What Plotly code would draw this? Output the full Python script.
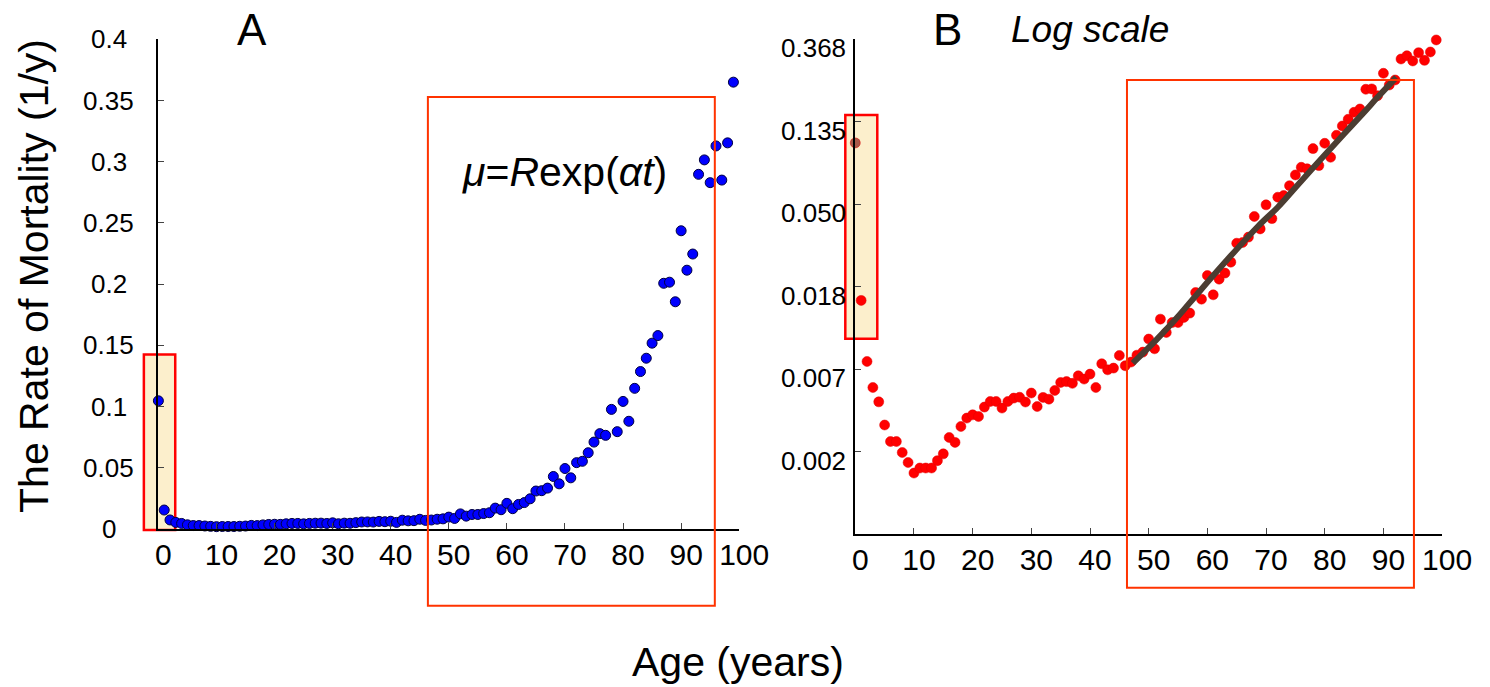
import math
import plotly.graph_objects as go

# ---------------- data ----------------
ages = list(range(0, 100))
mortality = [
    0.1047, 0.0155, 0.00739, 0.00539, 0.00453, 0.00342, 0.00280, 0.00280, 0.00245, 0.00217,
    0.00191, 0.00203, 0.00203, 0.00203, 0.00222, 0.00241, 0.00294, 0.00277, 0.00336, 0.00372,
    0.00387, 0.00379, 0.00425, 0.00455, 0.00455, 0.00420, 0.00455, 0.00474, 0.00479, 0.00452,
    0.00504, 0.00428, 0.00478, 0.00468, 0.00520, 0.00573, 0.00579, 0.00567, 0.00621, 0.00597,
    0.00634, 0.00539, 0.00719, 0.00668, 0.00682, 0.00795, 0.00702, 0.00734, 0.00798, 0.00828,
    0.00970, 0.00862, 0.01235, 0.01051, 0.01185, 0.01185, 0.01261, 0.01329, 0.01706, 0.01574,
    0.02096, 0.01659, 0.02006, 0.02159, 0.02466, 0.03102, 0.03130, 0.03340, 0.04290, 0.03690,
    0.04940, 0.04180, 0.05420, 0.05530, 0.06230, 0.07100, 0.07790, 0.07650, 0.09770, 0.07950,
    0.10420, 0.08800, 0.11490, 0.12860, 0.13950, 0.15180, 0.15800, 0.20070, 0.20160, 0.18560,
    0.24360, 0.21140, 0.22460, 0.28970, 0.30150, 0.28290, 0.31290, 0.28500, 0.31540, 0.36500,
]
fit_ages = [47.3, 51.3, 55.0, 58.4, 63.8, 68.6, 72.0, 75.4, 80.0, 83.4, 86.8, 89.0, 92.2]
fit_values = [0.00725, 0.00961, 0.01275, 0.01692, 0.02621, 0.0380, 0.0480, 0.0629,
              0.0905, 0.1178, 0.1530, 0.1821, 0.232]

x_ticks = list(range(0, 101, 10))
a_y_ticks = [0, 0.05, 0.1, 0.15, 0.2, 0.25, 0.3, 0.35, 0.4]
a_y_labels = ["0", "0.05", "0.1", "0.15", "0.2", "0.25", "0.3", "0.35", "0.4"]
b_y_ticks = [math.exp(-k) for k in range(1, 7)]
b_y_labels = ["0.368", "0.135", "0.050", "0.018", "0.007", "0.002"]

# highlighted regions (age range, mortality range)
box_a_infant = (-2.5, 2.9, -0.0008, 0.1426)
box_a_gompertz = (46.4, 95.8, -0.0626, 0.3529)
box_b_infant = (-1.7, 3.75, 0.00973, 0.147)
box_b_gompertz = (46.3, 95.2, math.exp(-7.651), math.exp(-1.493))

# ---------------- layout geometry (fractions of a 1490 x 687 canvas) ----------------
W, H = 1490, 687
FIG_W = 1520
FONT = "Arial, Liberation Sans, sans-serif"
xa_dom = [155.7 / W, 737.7 / W]
ya_dom = [1 - 529 / H, 1 - 39.3 / H]
xb_dom = [854 / W, 1442 / W]
yb_dom = [1 - 534 / H, 1 - 39.3 / H]
xa_rng = [0, 100]
ya_rng = [0, 0.4]
xb_rng = [0, 100]
yb_rng = [math.log10(math.exp(-7)), math.log10(math.exp(-1))]


def to_paper(v, dom, rng, log=False):
    if log:
        v = math.log10(v)
    return dom[0] + (v - rng[0]) / (rng[1] - rng[0]) * (dom[1] - dom[0])


def box(b, xd, xr, yd, yr, log, **kw):
    return dict(type="rect", xref="paper", yref="paper",
                x0=to_paper(b[0], xd, xr), x1=to_paper(b[1], xd, xr),
                y0=to_paper(b[2], yd, yr, log), y1=to_paper(b[3], yd, yr, log),
                **kw)


fig = go.Figure()

b_colors = ["#A85A4A"] + ["#FF0000"] * (len(ages) - 1)

fig.add_trace(go.Scatter(
    x=ages, y=mortality, mode="markers", xaxis="x", yaxis="y",
    marker=dict(size=10, color="#0000FF", line=dict(color="#000040", width=1)),
    cliponaxis=False, showlegend=False))

fig.add_trace(go.Scatter(
    x=ages, y=mortality, mode="markers", xaxis="x2", yaxis="y2",
    marker=dict(size=10, color=b_colors, line=dict(color="#E00000", width=0.5)),
    cliponaxis=False, showlegend=False))

fig.add_trace(go.Scatter(
    x=fit_ages, y=fit_values, mode="lines", xaxis="x2", yaxis="y2",
    line=dict(color="#4B3D32", width=6, shape="spline"),
    showlegend=False))

shapes = [
    box(box_a_infant, xa_dom, xa_rng, ya_dom, ya_rng, False,
        fillcolor="#FCEFCC", line=dict(color="#FF0000", width=2.5), layer="below"),
    box(box_a_gompertz, xa_dom, xa_rng, ya_dom, ya_rng, False,
        line=dict(color="#FF3300", width=2), layer="above"),
    box(box_b_infant, xb_dom, xb_rng, yb_dom, yb_rng, True,
        fillcolor="#FCEFCC", line=dict(color="#FF0000", width=2.5), layer="below"),
    box(box_b_gompertz, xb_dom, xb_rng, yb_dom, yb_rng, True,
        line=dict(color="#FF3300", width=2), layer="above"),
]

annotations = []
for v, t in zip(a_y_ticks, a_y_labels):
    annotations.append(dict(text=t, xref="paper", yref="y", x=106 / W, y=v,
                            xanchor="center", yanchor="middle", showarrow=False,
                            font=dict(family=FONT, size=26, color="black")))
for v, t in zip(b_y_ticks, b_y_labels):
    annotations.append(dict(text=t, xref="paper", yref="y2", x=847 / W, y=math.log10(v),
                            xanchor="right", yanchor="middle", yshift=-9, showarrow=False,
                            font=dict(family=FONT, size=26, color="black")))

annotations += [
    dict(text="A", xref="paper", yref="paper", x=250 / W, y=1 - 30 / H, xanchor="center",
         yanchor="middle", showarrow=False, font=dict(family=FONT, size=44, color="black")),
    dict(text="B", xref="paper", yref="paper", x=946 / W, y=1 - 30 / H, xanchor="center",
         yanchor="middle", showarrow=False, font=dict(family=FONT, size=44, color="black")),
    dict(text="<i>Log scale</i>", xref="paper", yref="paper", x=1008 / W, y=1 - 30 / H,
         xanchor="left", yanchor="middle", showarrow=False,
         font=dict(family=FONT, size=37, color="black")),
    dict(text="<i>μ</i>=<i>R</i>exp(<i>αt</i>)", xref="paper", yref="paper", x=458 / W,
         y=1 - 172 / H, xanchor="left", yanchor="middle", showarrow=False,
         font=dict(family=FONT, size=41, color="black")),
    dict(text="The Rate of Mortality (1/y)", xref="paper", yref="paper", x=31 / W,
         y=1 - 276 / H, xanchor="center", yanchor="middle", textangle=-90, showarrow=False,
         font=dict(family=FONT, size=41, color="black")),
    dict(text="Age (years)", xref="paper", yref="paper", x=736 / W, y=1 - 662 / H,
         xanchor="center", yanchor="middle", showarrow=False,
         font=dict(family=FONT, size=41, color="black")),
]

common_x = dict(range=[0, 100], tickvals=x_ticks, ticktext=[str(v) for v in x_ticks],
                showline=True, linecolor="black", linewidth=1.5, ticks="inside",
                ticklen=6, tickcolor="#444", tickwidth=1, showgrid=False, zeroline=False,
                tickfont=dict(family=FONT, size=30, color="black"), ticklabelstandoff=-2,
                ticklabelshift=5, fixedrange=True)
common_y = dict(showline=True, linecolor="black", linewidth=1.5, ticks="inside", ticklen=6,
                tickcolor="#444", tickwidth=1, showgrid=False, zeroline=False,
                showticklabels=False, fixedrange=True)

fig.update_layout(
    width=FIG_W, height=H, margin=dict(l=0, r=0, t=0, b=0),
    paper_bgcolor="white", plot_bgcolor="white",
    xaxis=dict(domain=xa_dom, anchor="y", **common_x),
    yaxis=dict(domain=ya_dom, anchor="x", range=ya_rng, tickvals=a_y_ticks, **common_y),
    xaxis2=dict(domain=xb_dom, anchor="y2", **common_x),
    yaxis2=dict(domain=yb_dom, anchor="x2", type="log", range=yb_rng, tickvals=b_y_ticks,
                **common_y),
    shapes=shapes, annotations=annotations, showlegend=False,
)

fig.write_html(
    "out.html",
    config={"displayModeBar": False},
    post_script=(
        "document.documentElement.style.margin='0';"
        "document.body.style.margin='0';"
    ),
)
